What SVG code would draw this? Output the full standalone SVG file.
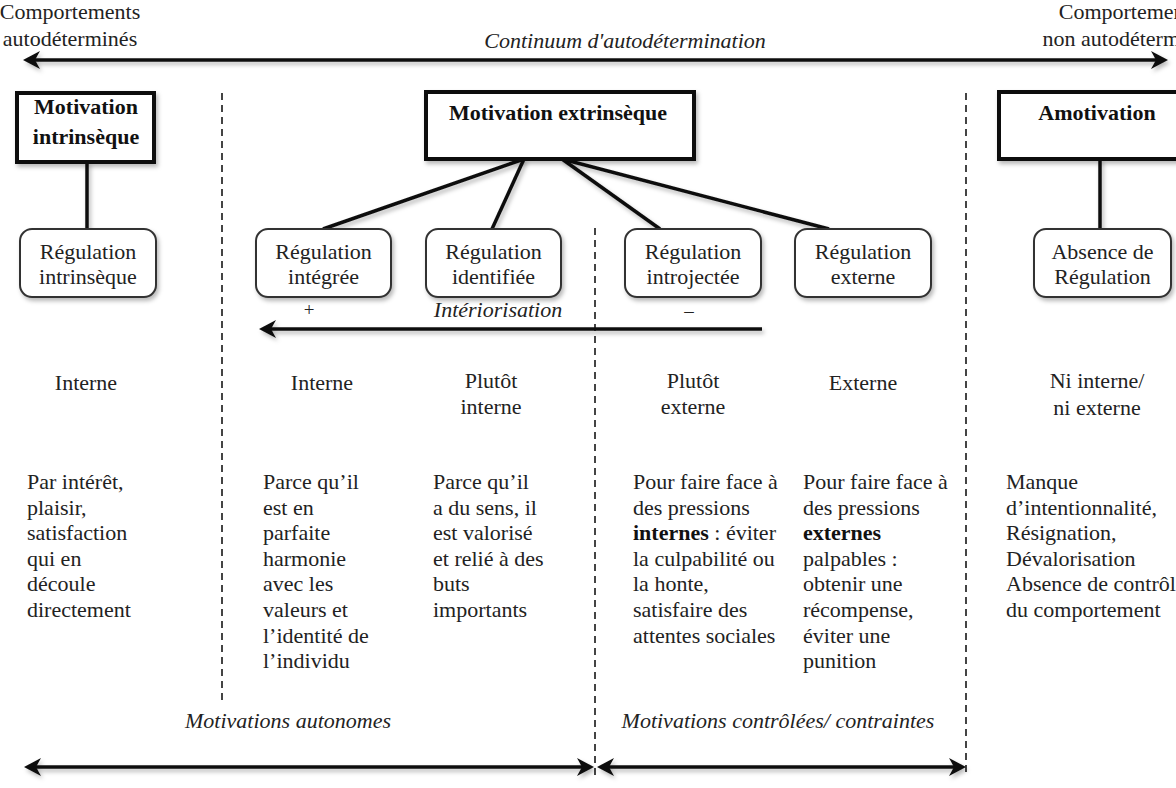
<svg xmlns="http://www.w3.org/2000/svg" width="1176" height="788" viewBox="0 0 1176 788">
<defs>
<style>
text{font-family:"Liberation Serif","Times New Roman",serif;font-size:22px;fill:#222}
.b{font-weight:bold;fill:#111}
.i{font-style:italic}
.m{text-anchor:middle}
.tb{fill:#fff;stroke:#111;stroke-width:4}
.rb{fill:#fff;stroke:#333;stroke-width:2}
.ln{stroke:#111;stroke-width:3.5;fill:none}
.ds{stroke:#444;stroke-width:2;stroke-dasharray:7 5;fill:none}
.sm{font-size:19px}
</style>
<filter id="sh" filterUnits="userSpaceOnUse" x="0" y="0" width="1176" height="788">
<feDropShadow dx="2" dy="3" stdDeviation="2" flood-color="#000" flood-opacity="0.28"/>
</filter>
<marker id="ah" markerUnits="userSpaceOnUse" viewBox="-1 -10 19 20" markerWidth="19" markerHeight="20" refX="10" refY="0" orient="auto-start-reverse">
<path d="M0,-9 L17,0 L0,9 L5,0 Z" fill="#111"/>
</marker>
</defs>

<g id="top-labels">
<text x="70" y="19" class="m">Comportements</text>
<text x="70" y="46" class="m">autodéterminés</text>
<text x="1129" y="19" class="m">Comportements</text>
<text x="1129" y="46" class="m">non autodéterminés</text>
<text x="625" y="48" class="m i">Continuum d'autodétermination</text>
</g>

<g id="dividers">
<line class="ds" x1="222" y1="93" x2="222" y2="700"/>
<line class="ds" x1="595" y1="228" x2="595" y2="775"/>
<line class="ds" x1="966" y1="93" x2="966" y2="775"/>
</g>

<g id="connectors" filter="url(#sh)">
<line class="ln" x1="30" y1="60" x2="1161" y2="60" marker-start="url(#ah)" marker-end="url(#ah)"/>
<line class="ln" x1="87" y1="162" x2="87" y2="229"/>
<line class="ln" x1="524" y1="159" x2="323" y2="229"/>
<line class="ln" x1="524" y1="159" x2="492" y2="229"/>
<line class="ln" x1="562" y1="159" x2="660" y2="229"/>
<line class="ln" x1="562" y1="159" x2="829" y2="229"/>
<line class="ln" x1="1100" y1="159" x2="1100" y2="230"/>
<line class="ln" x1="762" y1="329" x2="266" y2="329" marker-end="url(#ah)"/>
<line class="ln" x1="31" y1="767" x2="587" y2="767" marker-start="url(#ah)" marker-end="url(#ah)"/>
<line class="ln" x1="604" y1="767" x2="959" y2="767" marker-start="url(#ah)" marker-end="url(#ah)"/>
</g>

<g id="motivation-intrinseque">
<rect class="tb" x="17" y="93" width="137" height="69" filter="url(#sh)"/>
<text x="86" y="114" class="m b">Motivation</text>
<text x="86" y="144" class="m b">intrinsèque</text>
</g>
<g id="motivation-extrinseque">
<rect class="tb" x="426" y="92" width="268" height="67" filter="url(#sh)"/>
<text x="558" y="120" class="m b">Motivation extrinsèque</text>
</g>
<g id="amotivation">
<rect class="tb" x="999" y="92" width="220" height="67" filter="url(#sh)"/>
<text x="1097" y="120" class="m b">Amotivation</text>
</g>

<g id="regulation-intrinseque">
<rect class="rb" x="20" y="229" width="136" height="68" rx="12" filter="url(#sh)"/>
<text x="88" y="259" class="m">Régulation</text>
<text x="88" y="284" class="m">intrinsèque</text>
</g>
<g id="regulation-integree">
<rect class="rb" x="256" y="229" width="135" height="68" rx="12" filter="url(#sh)"/>
<text x="323.5" y="259" class="m">Régulation</text>
<text x="323.5" y="284" class="m">intégrée</text>
</g>
<g id="regulation-identifiee">
<rect class="rb" x="426" y="229" width="135" height="68" rx="12" filter="url(#sh)"/>
<text x="493.5" y="259" class="m">Régulation</text>
<text x="493.5" y="284" class="m">identifiée</text>
</g>
<g id="regulation-introjectee">
<rect class="rb" x="625" y="229" width="136" height="68" rx="12" filter="url(#sh)"/>
<text x="693" y="259" class="m">Régulation</text>
<text x="693" y="284" class="m">introjectée</text>
</g>
<g id="regulation-externe">
<rect class="rb" x="795" y="229" width="136" height="68" rx="12" filter="url(#sh)"/>
<text x="863" y="259" class="m">Régulation</text>
<text x="863" y="284" class="m">externe</text>
</g>
<g id="absence-regulation">
<rect class="rb" x="1034" y="229" width="137" height="68" rx="12" filter="url(#sh)"/>
<text x="1102.5" y="259" class="m">Absence de</text>
<text x="1102.5" y="284" class="m">Régulation</text>
</g>

<g id="interiorisation-labels">
<text x="309" y="316" class="m sm">+</text>
<text x="498" y="317" class="m i">Intériorisation</text>
<text x="689" y="317" class="m sm">–</text>
</g>

<g id="locus">
<text x="86" y="390" class="m">Interne</text>
<text x="322" y="390" class="m">Interne</text>
<text x="491" y="388" class="m">Plutôt</text>
<text x="491" y="414" class="m">interne</text>
<text x="693" y="388" class="m">Plutôt</text>
<text x="693" y="414" class="m">externe</text>
<text x="863" y="390" class="m">Externe</text>
<text x="1097" y="388" class="m">Ni interne/</text>
<text x="1097" y="415" class="m">ni externe</text>
</g>

<g id="descriptions">
<text x="27" y="489"><tspan x="27">Par intérêt,</tspan><tspan x="27" dy="25.6">plaisir,</tspan><tspan x="27" dy="25.6">satisfaction</tspan><tspan x="27" dy="25.6">qui en</tspan><tspan x="27" dy="25.6">découle</tspan><tspan x="27" dy="25.6">directement</tspan></text>
<text x="263" y="489"><tspan x="263">Parce qu’il</tspan><tspan x="263" dy="25.6">est en</tspan><tspan x="263" dy="25.6">parfaite</tspan><tspan x="263" dy="25.6">harmonie</tspan><tspan x="263" dy="25.6">avec les</tspan><tspan x="263" dy="25.6">valeurs et</tspan><tspan x="263" dy="25.6">l’identité de</tspan><tspan x="263" dy="25.6">l’individu</tspan></text>
<text x="433" y="489"><tspan x="433">Parce qu’il</tspan><tspan x="433" dy="25.6">a du sens, il</tspan><tspan x="433" dy="25.6">est valorisé</tspan><tspan x="433" dy="25.6">et relié à des</tspan><tspan x="433" dy="25.6">buts</tspan><tspan x="433" dy="25.6">importants</tspan></text>
<text x="633" y="489"><tspan x="633">Pour faire face à</tspan><tspan x="633" dy="25.6">des pressions</tspan><tspan x="633" dy="25.6" class="b">internes</tspan><tspan> : éviter</tspan><tspan x="633" dy="25.6">la culpabilité ou</tspan><tspan x="633" dy="25.6">la honte,</tspan><tspan x="633" dy="25.6">satisfaire des</tspan><tspan x="633" dy="25.6">attentes sociales</tspan></text>
<text x="803" y="489"><tspan x="803">Pour faire face à</tspan><tspan x="803" dy="25.6">des pressions</tspan><tspan x="803" dy="25.6" class="b">externes</tspan><tspan x="803" dy="25.6">palpables :</tspan><tspan x="803" dy="25.6">obtenir une</tspan><tspan x="803" dy="25.6">récompense,</tspan><tspan x="803" dy="25.6">éviter une</tspan><tspan x="803" dy="25.6">punition</tspan></text>
<text x="1006" y="489"><tspan x="1006">Manque</tspan><tspan x="1006" dy="25.6">d’intentionnalité,</tspan><tspan x="1006" dy="25.6">Résignation,</tspan><tspan x="1006" dy="25.6">Dévalorisation</tspan><tspan x="1006" dy="25.6">Absence de contrôle</tspan><tspan x="1006" dy="25.6">du comportement</tspan></text>
</g>

<g id="bottom-labels">
<text x="288" y="728" class="m i">Motivations autonomes</text>
<text x="778" y="728" class="m i">Motivations contrôlées/ contraintes</text>
</g>
</svg>
